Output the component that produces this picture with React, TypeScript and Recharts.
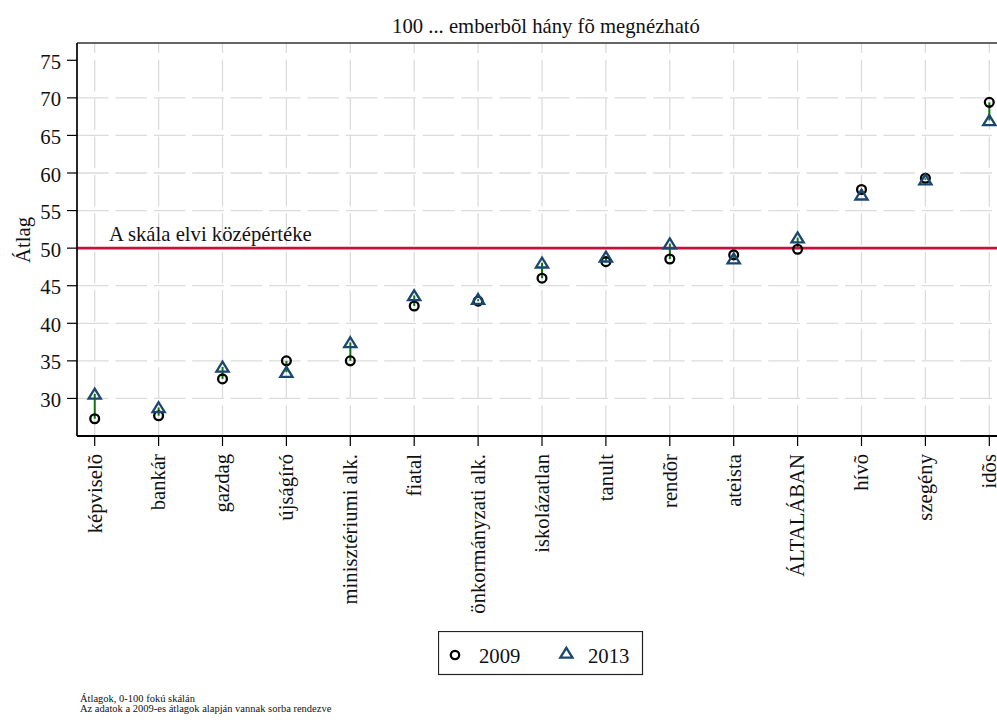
import React from 'react';
import {
  ComposedChart,
  Scatter,
  Bar,
  XAxis,
  YAxis,
  CartesianGrid,
  ReferenceLine,
  Legend,
  Customized,
} from 'recharts';

// ---------- data ----------
const categories = [
  'képviselõ',
  'bankár',
  'gazdag',
  'újságíró',
  'minisztériumi alk.',
  'fiatal',
  'önkormányzati alk.',
  'iskolázatlan',
  'tanult',
  'rendõr',
  'ateista',
  'ÁLTALÁBAN',
  'hívõ',
  'szegény',
  'idõs',
];
const values2009 = [27.3, 27.7, 32.6, 35.0, 35.0, 42.3, 42.95, 46.0, 48.2, 48.55, 49.1, 49.85, 57.8, 59.3, 69.4];
const values2013 = [30.6, 28.8, 34.2, 33.5, 37.45, 43.7, 43.2, 48.05, 48.85, 50.6, 48.6, 51.4, 57.1, 59.1, 67.0];
const yTicks = [30, 35, 40, 45, 50, 55, 60, 65, 70, 75];
const gridYValues = [30, 35, 40, 45, 50, 55, 60, 65, 70];
const xPositions = categories.map((_, i) => i + 1);
const midpointValue = 50;
const seriesNames = ['2009', '2013'];
const titleText = '100 ... emberbõl hány fõ megnézható';
const yAxisTitle = 'Átlag';
const refLabelText = 'A skála elvi középértéke';
const noteLines = ['Átlagok, 0-100 fokú skálán', 'Az adatok a 2009-es átlagok alapján vannak sorba rendezve'];

const chartData = categories.map((cat, i) => ({
  x: xPositions[i],
  cat,
  v2009: values2009[i],
  v2013: values2013[i],
  range: [Math.min(values2009[i], values2013[i]), Math.max(values2009[i], values2013[i])],
}));

// ---------- style ----------
const FONT = '"Liberation Serif", "Times New Roman", serif';
const FS = 20.7;
const TEXT = '#111';
const NAVY = '#1a476f';
const GREEN = '#0c740c';
const RED = '#c8103c';
const GRID = '#dcdcdc';

const W = 999;
const H = 712;
const PLOT_LEFT = 69;
const PLOT_TOP = 35;

const CircleShape = (props: any) => {
  const { cx, cy } = props;
  if (cx == null || cy == null) return null;
  return <circle cx={cx} cy={cy} r={4.4} fill="none" stroke="#000" strokeWidth={2.3} />;
};

const triPath = (cx: number, cy: number) =>
  `M${cx},${cy - 5.2} L${cx + 6.1},${cy + 4.7} L${cx - 6.1},${cy + 4.7} Z`;

const TriangleShape = (props: any) => {
  const { cx, cy } = props;
  if (cx == null || cy == null) return null;
  return <path d={triPath(cx, cy)} fill="none" stroke={NAVY} strokeWidth={2.3} strokeLinejoin="miter" />;
};

const XTick = (props: any) => {
  const { x, y, payload } = props;
  const label = categories[Math.round(payload.value) - 1];
  return (
    <g transform={`translate(${x},${y})`}>
      <text transform="rotate(-90)" x={0} y={0} dy="0.33em" textAnchor="end" fontSize={FS} fontFamily={FONT} fill={TEXT}>
        {label}
      </text>
    </g>
  );
};

const YTick = (props: any) => {
  const { x, y, payload } = props;
  return (
    <text x={x} y={y} dy={8.6} textAnchor="end" fontSize={FS} fontFamily={FONT} fill={TEXT}>
      {payload.value}
    </text>
  );
};

const RefLabel = (props: any) => {
  const vb = props.viewBox || { x: PLOT_LEFT, y: 239 };
  return (
    <text x={vb.x + 32} y={vb.y - 6.8} fontSize={FS} fontFamily={FONT} fill={TEXT}>
      {refLabelText}
    </text>
  );
};

const LegendBox = () => (
  <svg width={206} height={45} style={{ display: 'block' }}>
    <rect x={0.5} y={0.5} width={204} height={43} fill="#fff" stroke="#222" strokeWidth={1.2} />
    <circle cx={17} cy={24} r={4.2} fill="none" stroke="#000" strokeWidth={2.3} />
    <text x={41} y={31.6} fontSize={FS} fontFamily={FONT} fill={TEXT}>
      {seriesNames[0]}
    </text>
    <path d={triPath(128.4, 22)} fill="none" stroke={NAVY} strokeWidth={2.3} />
    <text x={150} y={31.6} fontSize={FS} fontFamily={FONT} fill={TEXT}>
      {seriesNames[1]}
    </text>
  </svg>
);

const Decorations = () => (
  <g>
    <line x1={PLOT_LEFT} y1={PLOT_TOP} x2={W} y2={PLOT_TOP} stroke="#333" strokeWidth={1.5} />
    <text x={538} y={25.3} textAnchor="middle" fontSize={FS} fontFamily={FONT} fill={TEXT}>
      {titleText}
    </text>
    <text
      transform={`translate(21.5,232) rotate(-90)`}
      textAnchor="middle"
      fontSize={FS}
      fontFamily={FONT}
      fill={TEXT}
    >
      {yAxisTitle}
    </text>
    <text x={72} y={693.5} fontSize={10.5} fontFamily={FONT} fill={TEXT}>
      {noteLines[0]}
    </text>
    <text x={72} y={704} fontSize={10.5} fontFamily={FONT} fill={TEXT}>
      {noteLines[1]}
    </text>
  </g>
);

export default function App() {
  return (
    <div
      style={{
        position: 'absolute',
        left: 8,
        top: 8,
        width: 989,
        height: H,
        overflow: 'hidden',
        background: '#fff',
      }}
    >
      <ComposedChart
        width={W}
        height={H}
        data={chartData}
        margin={{ top: PLOT_TOP, right: 0, bottom: 0, left: 0 }}
      >
        <CartesianGrid
          vertical={false}
          horizontalValues={gridYValues}
          stroke={GRID}
          strokeWidth={1.3}
          strokeDasharray="31.7 6.7"
        />
        <CartesianGrid
          horizontal={false}
          verticalValues={xPositions}
          stroke={GRID}
          strokeWidth={1.3}
          strokeDasharray="31.7 6.7"
          strokeDashoffset={21.7}
        />
        <XAxis
          dataKey="x"
          type="number"
          domain={[0.723, 15.277]}
          ticks={xPositions}
          interval={0}
          allowDataOverflow
          height={284}
          tickSize={10}
          tickMargin={8}
          tick={<XTick />}
          axisLine={{ stroke: '#000', strokeWidth: 2 }}
          tickLine={{ stroke: '#000', strokeWidth: 1.2 }}
        />
        <YAxis
          type="number"
          domain={[25, 77.3]}
          ticks={yTicks}
          interval={0}
          allowDataOverflow
          width={PLOT_LEFT}
          tickSize={10}
          tickMargin={6}
          tick={<YTick />}
          axisLine={{ stroke: '#000', strokeWidth: 1.7 }}
          tickLine={{ stroke: '#000', strokeWidth: 1.2 }}
        />
        <ReferenceLine y={midpointValue} stroke={RED} strokeWidth={2.6} label={<RefLabel />} />
        <Bar dataKey="range" barSize={2} fill={GREEN} isAnimationActive={false} legendType="none" />
        <Scatter name={seriesNames[0]} dataKey="v2009" shape={CircleShape} isAnimationActive={false} />
        <Scatter name={seriesNames[1]} dataKey="v2013" shape={TriangleShape} isAnimationActive={false} />
        <Legend
          layout="horizontal"
          verticalAlign="middle"
          align="center"
          content={() => <LegendBox />}
          wrapperStyle={{ position: 'absolute', left: 430, top: 623, width: 206, height: 45 }}
        />
        <Customized component={<Decorations />} />
      </ComposedChart>
    </div>
  );
}
